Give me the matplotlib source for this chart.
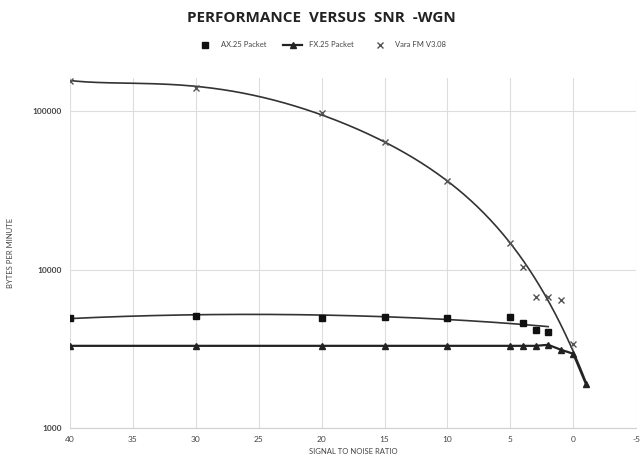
import numpy as np
import matplotlib
matplotlib.use("Agg")
import matplotlib.pyplot as plt
from matplotlib.ticker import FixedLocator, NullLocator

# Data
ax25_snr = [40, 30, 20, 15, 10, 5, 4, 3, 2]
ax25_bpm = [4970, 5120, 4970, 5050, 4970, 5050, 4630, 4170, 4050]

fx25_snr = [40, 30, 20, 15, 10, 5, 4, 3, 2, 1, 0, -1]
fx25_bpm = [3300, 3300, 3300, 3300, 3300, 3300, 3300, 3300, 3350, 3120, 2940, 1900]

vara_snr = [40, 30, 20, 15, 10, 5, 4, 3, 2, 1, 0]
vara_bpm = [155000, 140000, 97000, 63700, 36000, 14600, 10450, 6750, 6750, 6460, 3400]

# smoothed Vara curve as drawn in the chart
vara_curve_snr = [40, 35, 30, 25, 20, 15, 10, 5, 4, 3, 2, 1, 0, -1]
vara_curve_bpm = [155000, 153000, 140000, 122600, 97000, 63700, 36000, 14600,
                  11070, 8510, 6650, 4620, 3070, 1900]

x_ticks = [40, 35, 30, 25, 20, 15, 10, 5, 0, -5]
y_ticks = [1000, 10000, 100000]

plt.rcParams['font.family'] = ['Lato', 'DejaVu Sans']

fig = plt.figure(figsize=(6.42, 4.58), dpi=100)
ax = fig.add_axes([0.109, 0.0655, 0.882, 0.7645])

# AX.25 trendline
ax_fit = np.polyfit(ax25_snr, ax25_bpm, 2)
xs = np.linspace(max(ax25_snr), min(ax25_snr), 200)
ax.plot(xs, np.polyval(ax_fit, xs), color="#333333", lw=1.2, zorder=2)

# Vara smoothed curve
v_fit = np.polyfit(vara_curve_snr, np.log10(vara_curve_bpm), 5)
xs = np.linspace(max(vara_curve_snr), min(vara_curve_snr), 400)
ax.plot(xs, 10 ** np.polyval(v_fit, xs), color="#333333", lw=1.2, zorder=2)

ax.plot(ax25_snr, ax25_bpm, ls="none", marker="s", ms=5, color="#111111",
        label="AX.25 Packet", zorder=3)
ax.plot(fx25_snr, fx25_bpm, ls="-", lw=1.6, marker="^", ms=4.5,
        color="#222222", label="FX.25 Packet", zorder=3)
ax.plot(vara_snr, vara_bpm, ls="none", marker="x", ms=5, mew=1.0,
        color="#555555", label="Vara FM V3.08", zorder=3)

ax.set_yscale("log")
ax.set_xlim(40, -5)
ax.set_ylim(1000, 162000)
ax.yaxis.set_major_locator(FixedLocator(y_ticks))
ax.yaxis.set_minor_locator(NullLocator())
ax.set_yticklabels([str(v) for v in y_ticks])
ax.set_xticks(x_ticks)
ax.set_xticklabels([str(v) for v in x_ticks])

ax.grid(True, color="#dddddd", lw=0.8)
ax.set_axisbelow(True)
for side in ["top", "right", "left"]:
    ax.spines[side].set_visible(False)
ax.spines["bottom"].set_color("#d0d0d0")
ax.tick_params(length=0, labelsize=6, colors="#444444", pad=6)
for lbl in ax.get_yticklabels():
    lbl.set_fontweight("bold")

ax.set_xlabel("SIGNAL TO NOISE RATIO", fontsize=5.5, color="#444444", labelpad=3)
ax.set_ylabel("BYTES PER MINUTE", fontsize=5.5, color="#444444", labelpad=13)

fig.text(0.5, 0.96, "PERFORMANCE  VERSUS  SNR  -WGN", ha="center", va="center",
         fontsize=11, fontweight="bold", color="#222222", family=["Open Sans", "DejaVu Sans"])

fig.legend(loc="center", bbox_to_anchor=(0.5, 0.902), ncol=3, frameon=False,
           fontsize=5.5, handlelength=2.5, columnspacing=2.2, labelcolor="#444444")

fig.savefig("out.png", dpi=100, facecolor="white")
